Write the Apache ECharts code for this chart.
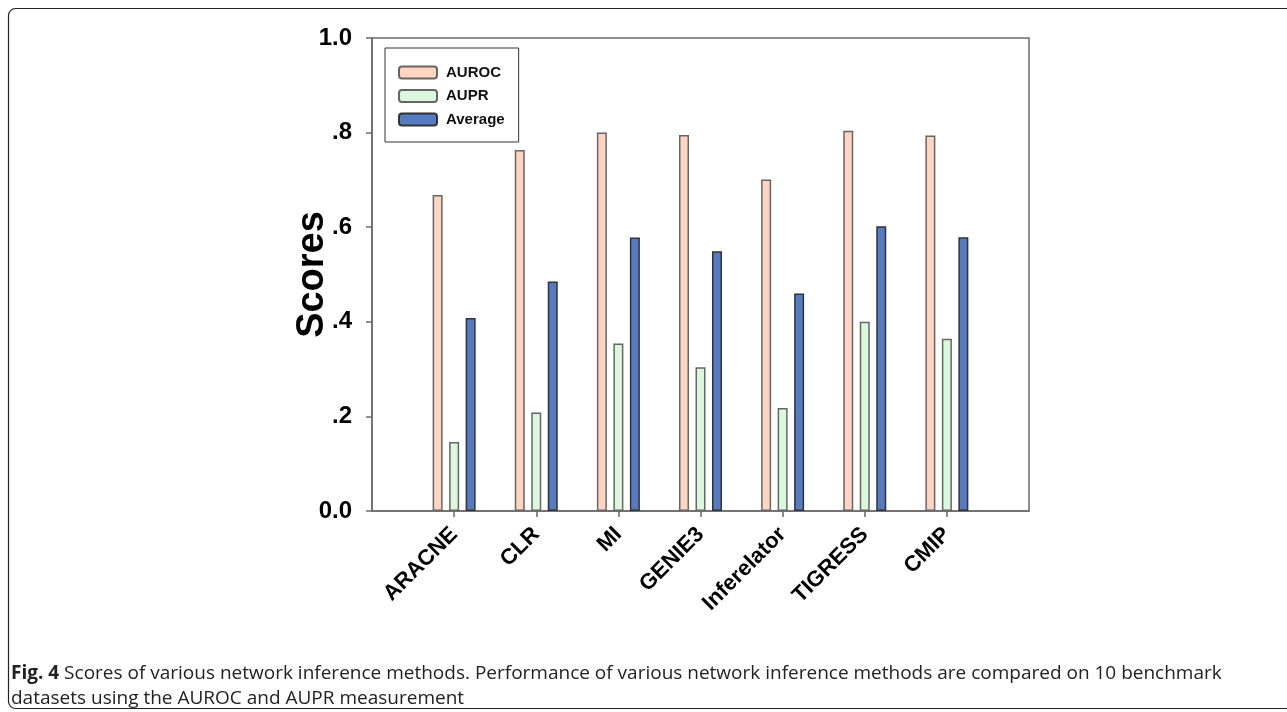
<!DOCTYPE html>
<html>
<head>
<meta charset="utf-8">
<script src="https://cdn.jsdelivr.net/npm/echarts@6/dist/echarts.min.js"></script>
<style>
html,body{margin:0;padding:0;background:#fff;}
#chart{width:1287px;height:712px;}
</style>
</head>
<body>
<div id="chart"></div>
<script>
const methods = ['ARACNE', 'CLR', 'MI', 'GENIE3', 'Inferelator', 'TIGRESS', 'CMIP'];
const auroc   = [0.668, 0.763, 0.800, 0.795, 0.701, 0.804, 0.794];
const aupr    = [0.146, 0.208, 0.354, 0.304, 0.218, 0.400, 0.364];
const average = [0.408, 0.485, 0.578, 0.549, 0.460, 0.602, 0.579];
const yTickLabels = ['0.0', '.2', '.4', '.6', '.8', '1.0'];
const captionBold = 'Fig. 4';
const captionLine1 = ' Scores of various network inference methods. Performance of various network inference methods are compared on 10 benchmark';
const captionLine2 = 'datasets using the AUROC and AUPR measurement';

// pad the category axis with empty slots on both sides
const cats = [''].concat(methods, ['']);
const pad = arr => [null].concat(arr, [null]);

const chart = echarts.init(document.getElementById('chart'), null, {renderer: 'canvas'});
const axisGray = '#6b6b6b';
const option = {
  animation: false,
  backgroundColor: '#fff',
  grid: {
    left: 372, right: 258, top: 38, bottom: 201,
    show: true, borderColor: axisGray, borderWidth: 1.5, backgroundColor: 'transparent'
  },
  legend: {
    orient: 'vertical',
    left: 385, top: 48,
    padding: [17, 14, 15, 13],
    borderColor: '#333', borderWidth: 1,
    itemWidth: 38, itemHeight: 12, itemGap: 8.5,
    textStyle: {fontFamily: 'Liberation Sans, Arial, sans-serif', fontWeight: 'bold', fontSize: 15, color: '#111', lineHeight: 14, padding: [0, 0, 0, 4]},
    data: ['AUROC', 'AUPR', 'Average']
  },
  xAxis: {
    type: 'category',
    data: cats,
    boundaryGap: false,
    axisLine: {show: true, lineStyle: {color: axisGray, width: 1.5}},
    axisTick: {show: true, length: 6, lineStyle: {color: axisGray, width: 1.5},
      interval: (i, v) => v !== ''},
    axisLabel: {
      interval: (i, v) => v !== '',
      rotate: 45, margin: 20,
      fontFamily: 'Liberation Sans, Arial, sans-serif', fontWeight: 'bold', fontSize: 22, color: '#000'
    },
    splitLine: {show: false}
  },
  yAxis: {
    type: 'value',
    min: 0, max: 1, interval: 0.2,
    name: 'Scores',
    nameLocation: 'middle',
    nameRotate: 90,
    nameGap: 40,
    nameMoveOverlap: false,
    nameTextStyle: {fontFamily: 'Liberation Sans, Arial, sans-serif', fontWeight: 'bold', fontSize: 38, color: '#000'},
    axisLine: {show: true, lineStyle: {color: axisGray, width: 1.5}},
    axisTick: {show: true, length: 6, lineStyle: {color: axisGray, width: 1.5}},
    axisLabel: {
      margin: 20,
      fontFamily: 'Liberation Sans, Arial, sans-serif', fontWeight: 'bold', fontSize: 24, color: '#000',
      formatter: v => yTickLabels[Math.round(v / 0.2)]
    },
    splitLine: {show: false}
  },
  series: [
    {name: 'AUROC', type: 'bar', data: pad(auroc), barWidth: 10, barGap: '65%',
      itemStyle: {color: '#FFD5C1', borderColor: '#666', borderWidth: 1.5}},
    {name: 'AUPR', type: 'bar', data: pad(aupr), barWidth: 10, barGap: '65%',
      itemStyle: {color: '#DCF8DC', borderColor: '#666', borderWidth: 1.5}},
    {name: 'Average', type: 'bar', data: pad(average), barWidth: 10, barGap: '65%',
      itemStyle: {color: '#557CC2', borderColor: '#333', borderWidth: 1.5}}
  ],
  graphic: [
    {type: 'rect', silent: true, z: -1,
      shape: {x: 8.5, y: 8.5, width: 1320, height: 700, r: 7},
      style: {fill: 'none', stroke: '#222', lineWidth: 1.2}},
    {type: 'text', left: 11, top: 664,
      style: {
        text: '{b|' + captionBold + '}{n|' + captionLine1 + '}\n{n|' + captionLine2 + '}',
        rich: {
          b: {fontFamily: 'Open Sans, sans-serif', fontWeight: 'bold', fontSize: 19, lineHeight: 25, fill: '#222'},
          n: {fontFamily: 'Open Sans, sans-serif', fontSize: 19, lineHeight: 25, fill: '#222'}
        }
      }}
  ]
};
chart.setOption(option);
</script>
</body>
</html>
